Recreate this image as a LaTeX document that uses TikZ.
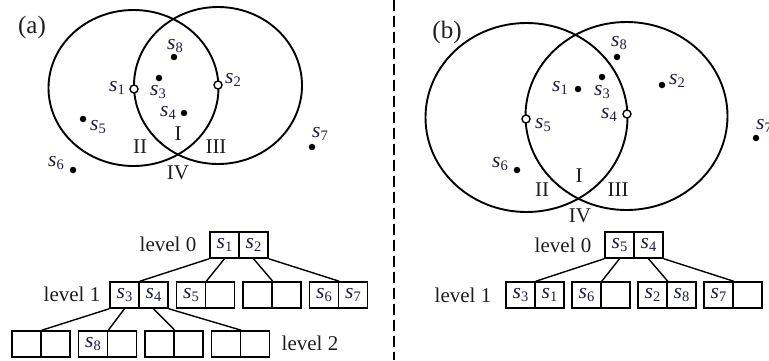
\documentclass[tikz,border=0pt]{standalone}
\usepackage{fontspec}
\setmainfont{Liberation Serif}
\definecolor{navy}{RGB}{30,30,60}
\definecolor{ink}{RGB}{30,30,30}
\newcommand{\sv}[1]{\textit{s}\kern0.3pt\raisebox{-2.2pt}{\fontsize{14.5}{14.5}\selectfont #1}}
\begin{document}
\begin{tikzpicture}[x=1pt,y=-1pt,
  lbl/.style={inner sep=0pt, text=ink, font=\fontsize{21}{24}\selectfont},
  sl/.style={inner sep=0pt, text=navy, font=\fontsize{21.5}{24}\selectfont},
  tag/.style={inner sep=0pt, text=ink, font=\fontsize{25}{28}\selectfont},
  dot/.style={circle, fill=black, inner sep=0pt, minimum size=6.5pt},
  hole/.style={circle, draw=black, fill=white, line width=1.4pt, inner sep=0pt, minimum size=8pt},
  ring/.style={line width=1.9pt},
  cell/.style={draw, line width=1.5pt, minimum width=29pt, minimum height=26pt, inner sep=0pt, text=navy, font=\fontsize{21.5}{24}\selectfont},
  link/.style={line width=1.4pt},
  sep/.style={line width=2pt, dash pattern=on 11pt off 5pt}
]
\useasboundingbox (0,0) rectangle (769,360);
\clip (0,0) rectangle (769,360);

% separator
\coordinate (sepT) at (394,0);
\coordinate (sepB) at (394,360);
\draw[sep] (sepT) -- (sepB);

% ---------- (a) ----------
\node[tag] (taga) at (32,27) {(a)};
\draw[ring] (133.5,88) ellipse [x radius=85, y radius=78];
\draw[ring] (218,85.5) ellipse [x radius=84, y radius=78.5];

\node[hole] (pa1) at (134,89) {};
\node[hole] (pa2) at (218,85) {};
\node[dot] (pa3) at (159,78) {};
\node[dot] (pa4) at (184,113) {};
\node[dot] (pa5) at (83,119) {};
\node[dot] (pa6) at (73,170) {};
\node[dot] (pa7) at (312,147) {};
\node[dot] (pa8) at (174,57) {};

\node[sl] (la1) at (117,88) {\sv{1}};
\node[sl] (la2) at (233,80) {\sv{2}};
\node[sl] (la3) at (158,92) {\sv{3}};
\node[sl] (la4) at (168,113) {\sv{4}};
\node[sl] (la5) at (98,127) {\sv{5}};
\node[sl] (la6) at (56,163) {\sv{6}};
\node[sl] (la7) at (320,134) {\sv{7}};
\node[sl] (la8) at (175,46) {\sv{8}};

\node[lbl] (ra1) at (178,134) {I};
\node[lbl] (ra2) at (140,147) {II};
\node[lbl] (ra3) at (216,147) {III};
\node[lbl] (ra4) at (178,173) {IV};

% tree (a)
\node[lbl] (lva0) at (168,244) {level 0};
\node[lbl] (lva1) at (72,294) {level 1};
\node[lbl] (lva2) at (310,343) {level 2};

\node[cell] (a0L) at (224.5,245) {\sv{1}};
\node[cell] (a0R) at (253.5,245) {\sv{2}};

\node[cell] (a1aL) at (124.5,295) {\sv{3}};
\node[cell] (a1aR) at (153.5,295) {\sv{4}};
\node[cell] (a1bL) at (191,295) {\sv{5}};
\node[cell] (a1bR) at (220,295) {};
\node[cell] (a1cL) at (257.5,295) {};
\node[cell] (a1cR) at (286.5,295) {};
\node[cell] (a1dL) at (324,295) {\sv{6}};
\node[cell] (a1dR) at (353,295) {\sv{7}};

\node[cell] (a2aL) at (26.5,344) {};
\node[cell] (a2aR) at (55.5,344) {};
\node[cell] (a2bL) at (93,344) {\sv{8}};
\node[cell] (a2bR) at (122,344) {};
\node[cell] (a2cL) at (159.5,344) {};
\node[cell] (a2cR) at (188.5,344) {};
\node[cell] (a2dL) at (226,344) {};
\node[cell] (a2dR) at (255,344) {};

\draw[link] (a0L.south west) -- (a1aL.north east);
\draw[link] (a0L.south) -- (a1bL.north east);
\draw[link] (a0R.south) -- (a1cL.north east);
\draw[link] (a0R.south east) -- (a1dL.north east);
\draw[link] (a1aL.south west) -- (a2aL.north east);
\draw[link] (a1aL.south) -- (a2bL.north east);
\draw[link] (a1aR.south) -- (a2cL.north east);
\draw[link] (a1aR.south east) -- (a2dL.north east);

% ---------- (b) ----------
\node[tag] (tagb) at (447,32) {(b)};
\draw[ring] (526.5,117.5) ellipse [x radius=101, y radius=94.5];
\draw[ring] (626.5,116) ellipse [x radius=101, y radius=94];

\node[hole] (pb5) at (526,119) {};
\node[hole] (pb4) at (627,114) {};
\node[dot] (pb1) at (578,89) {};
\node[dot] (pb2) at (662,85) {};
\node[dot] (pb3) at (602,77) {};
\node[dot] (pb6) at (517,170) {};
\node[dot] (pb7) at (756,138) {};
\node[dot] (pb8) at (617,57) {};

\node[sl] (lb1) at (560,88) {\sv{1}};
\node[sl] (lb2) at (677,81) {\sv{2}};
\node[sl] (lb3) at (602,92) {\sv{3}};
\node[sl] (lb4) at (609,115) {\sv{4}};
\node[sl] (lb5) at (543,125) {\sv{5}};
\node[sl] (lb6) at (500,164) {\sv{6}};
\node[sl] (lb7) at (764,126) {\sv{7}};
\node[sl] (lb8) at (619,43) {\sv{8}};

\node[lbl] (rb1) at (579,176) {I};
\node[lbl] (rb2) at (542,190) {II};
\node[lbl] (rb3) at (618,190) {III};
\node[lbl] (rb4) at (580,216) {IV};

% tree (b)
\node[lbl] (lvb0) at (563,245) {level 0};
\node[lbl] (lvb1) at (463,295) {level 1};

\node[cell] (b0L) at (619.5,245) {\sv{5}};
\node[cell] (b0R) at (648.5,245) {\sv{4}};

\node[cell] (b1aL) at (520.5,295) {\sv{3}};
\node[cell] (b1aR) at (549.5,295) {\sv{1}};
\node[cell] (b1bL) at (586.5,295) {\sv{6}};
\node[cell] (b1bR) at (615.5,295) {};
\node[cell] (b1cL) at (652.5,295) {\sv{2}};
\node[cell] (b1cR) at (681.5,295) {\sv{8}};
\node[cell] (b1dL) at (718.5,295) {\sv{7}};
\node[cell] (b1dR) at (747.5,295) {};

\draw[link] (b0L.south west) -- (b1aL.north east);
\draw[link] (b0L.south) -- (b1bL.north east);
\draw[link] (b0R.south) -- (b1cL.north east);
\draw[link] (b0R.south east) -- (b1dL.north east);
\end{tikzpicture}
\end{document}
